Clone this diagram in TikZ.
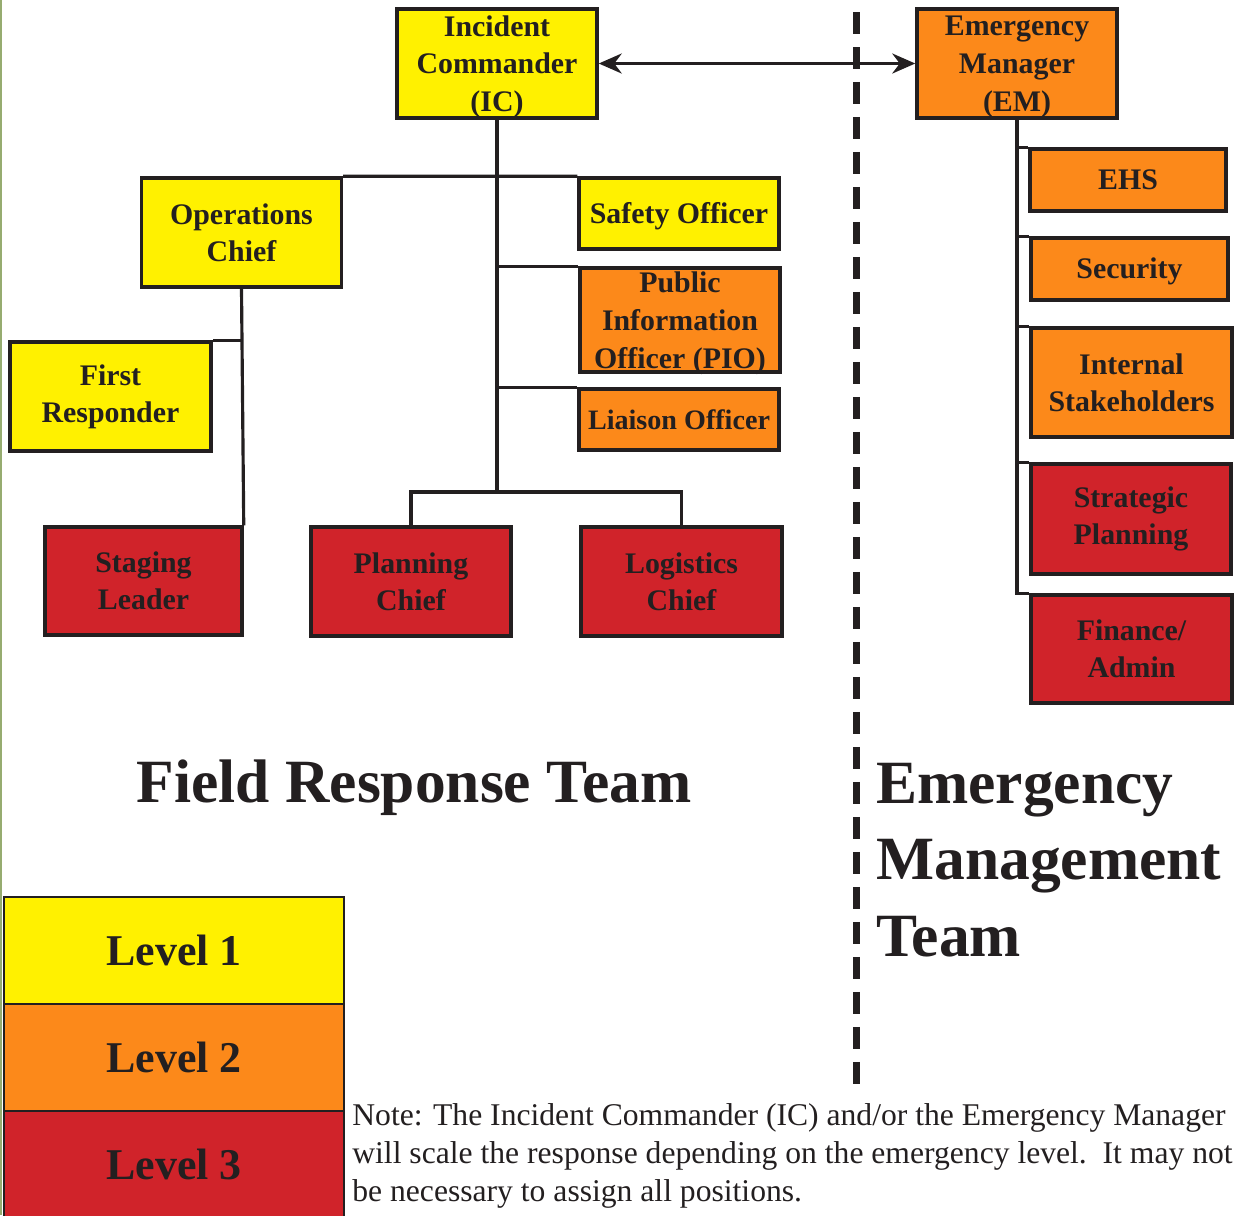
\documentclass[tikz,border=0pt]{standalone}
\usepackage{fontspec}
\setmainfont{Liberation Serif}
\usetikzlibrary{arrows.meta}
\definecolor{ink}{RGB}{35,31,32}
\definecolor{lvyellow}{RGB}{255,241,0}
\definecolor{lvorange}{RGB}{252,137,26}
\definecolor{lvred}{RGB}{208,35,42}
\definecolor{edgegreen}{RGB}{150,172,112}
\tikzset{
  box/.style={draw=ink,line width=2pt,align=center,inner sep=0pt,text=ink,
    font=\bfseries\fontsize{17}{21}\selectfont},
  lowtext/.style={text depth=0pt,font=\bfseries\fontsize{17}{21.5}\selectfont},
  lvl/.style={draw=ink,line width=1.2pt,inner sep=0pt,text=ink,
    minimum width=6.8cm,minimum height=2.14cm,font=\bfseries\fontsize{25}{30}\selectfont},
  link/.style={draw=ink,line width=1.8pt},
  title/.style={text=ink,align=left,inner sep=0pt,font=\bfseries\fontsize{35}{43.5}\selectfont}
}
\begin{document}
\begin{tikzpicture}[x=0.02cm,y=-0.02cm]
\useasboundingbox (0,0) rectangle (1236,1215);
\draw[edgegreen,line width=1.5pt] (1,0) -- (1,1215);
\draw[ink,line width=4pt,dash pattern=on 0.44cm off 0.26cm] (856,12) -- (856,1094);
\node[box,lowtext,fill=lvyellow,minimum width=4cm,minimum height=2.18cm](ic) at (497,63.5) {Incident\\Commander\\(IC)};
\node[box,lowtext,fill=lvorange,minimum width=4cm,minimum height=2.18cm](em) at (1017,63.5) {Emergency\\Manager\\(EM)};
\node[box,fill=lvyellow,minimum width=4cm,minimum height=2.18cm](ops) at (241.5,232.5) {Operations\\Chief};
\node[box,fill=lvyellow,minimum width=4cm,minimum height=1.42cm,text depth=1pt](safety) at (679,213.5) {Safety Officer};
\node[box,lowtext,fill=lvorange,minimum width=4cm,minimum height=2.08cm](pio) at (680,320) {Public\\Information\\Officer (PIO)};
\node[box,fill=lvorange,minimum width=4cm,minimum height=1.22cm,font=\bfseries\fontsize{16}{20}\selectfont](liaison) at (679,419.5) {Liaison Officer};
\node[box,fill=lvyellow,minimum width=4.02cm,minimum height=2.18cm](first) at (110.5,396.5) {First\\Responder};
\node[box,fill=lvred,minimum width=3.94cm,minimum height=2.16cm](stage) at (143.5,581) {Staging\\Leader};
\node[box,fill=lvred,minimum width=4cm,minimum height=2.18cm](plan) at (411,581.5) {Planning\\Chief};
\node[box,fill=lvred,minimum width=4.02cm,minimum height=2.18cm](log) at (681.5,581.5) {Logistics\\Chief};
\node[box,fill=lvorange,minimum width=3.92cm,minimum height=1.24cm](ehs) at (1128,180) {EHS};
\node[box,fill=lvorange,minimum width=3.94cm,minimum height=1.24cm,text depth=1pt](sec) at (1129.5,269) {Security};
\node[box,fill=lvorange,minimum width=4.02cm,minimum height=2.18cm](int) at (1131.5,382.5) {Internal\\Stakeholders};
\node[box,fill=lvred,minimum width=4cm,minimum height=2.2cm](strat) at (1131,519) {Strategic\\Planning};
\node[box,fill=lvred,minimum width=4.02cm,minimum height=2.16cm](fin) at (1131.5,649) {Finance/\\Admin};
\coordinate(fork) at (497,492);
\draw[ink,line width=1.8pt,{Stealth[length=0.46cm,width=0.4cm]}-{Stealth[length=0.46cm,width=0.4cm]}] (ic.east) -- (em.west);
\draw[link] (ic.south) -- (fork);
\draw[link] (ops.north east) -- (safety.north west);
\draw[link] (ic.south |- pio.north west) -- (pio.north west);
\draw[link] (ic.south |- liaison.north west) -- (liaison.north west);
\draw[link] (plan.north) |- (fork) -| (log.north);
\draw[link] (ops.south) -- (stage.north east);
\draw[link] (ops.south |- first.north east) -- (first.north east);
\foreach \n in {ehs,sec,int,strat,fin}
  \draw[link] (em.south) |- (\n.north west);
\node[title](frt) at (414,788) {Field Response Team};
\node[title,anchor=west](emt) at (876,860) {Emergency\\Management\\Team};
\node[lvl,fill=lvyellow](lv1) at (174,950.5) {Level 1};
\node[lvl,fill=lvorange](lv2) at (174,1057.5) {Level 2};
\node[lvl,fill=lvred](lv3) at (174,1164.5) {Level 3};
\node[anchor=west,align=left,inner sep=0pt,text=ink,font=\fontsize{18}{21.8}\selectfont](note) at (352,1156)
  {Note: The Incident Commander (IC) and/or the Emergency Manager\\
   will scale the response depending on the emergency level.\ \ It may not\\
   be necessary to assign all positions.};
\end{tikzpicture}
\end{document}
